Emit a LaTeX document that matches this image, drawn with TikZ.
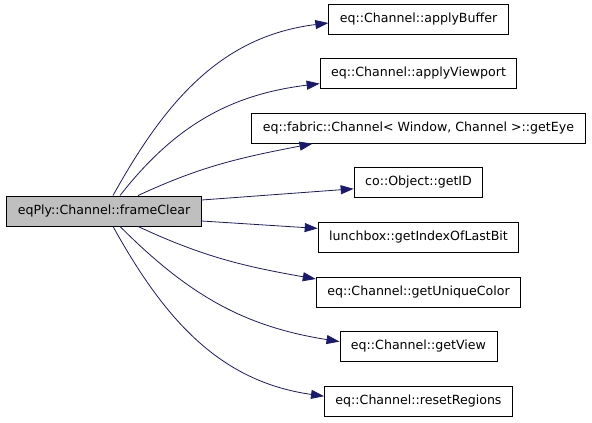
\documentclass[tikz,border=0pt]{standalone}
\usepackage{fontspec}
\setmainfont{DejaVu Sans}
\usepackage{tikz}
\usetikzlibrary{arrows.meta, positioning}
\definecolor{edgeblue}{RGB}{25,25,112}
\definecolor{callergray}{RGB}{191,191,191}

\begin{document}
\begin{tikzpicture}[
        node distance=23.7pt,
        fn/.style={rectangle, draw=black, line width=0.9pt, minimum height=30pt,
                   inner xsep=11pt, text height=9pt, text depth=3pt,
                   font=\fontsize{12.6}{14}\selectfont},
        callerbox/.style={fn, fill=callergray},
        calleebox/.style={fn, fill=white},
        call/.style={-{Triangle[length=13pt, width=9pt]}, line width=0.8pt, draw=edgeblue, color=edgeblue}
    ]
        \useasboundingbox (0pt,0pt) rectangle (592pt,-423pt);
        \node[callerbox] (frameclear) at (104pt,-211pt) {eqPly::Channel::frameClear};
        % callees, one column
        \node[calleebox] (buffer) at (418.5pt,-19pt) {eq::Channel::applyBuffer};
        \node[calleebox, below=of buffer] (viewport) {eq::Channel::applyViewport};
        \node[calleebox, below=of viewport] (geteye) {eq::fabric::Channel< Window, Channel >::getEye};
        \node[calleebox, below=of geteye] (getid) {co::Object::getID};
        \node[calleebox, below=of getid] (lastbit) {lunchbox::getIndexOfLastBit};
        \node[calleebox, below=of lastbit] (uniquecolor) {eq::Channel::getUniqueColor};
        \node[calleebox, below=of uniquecolor] (getview) {eq::Channel::getView};
        \node[calleebox, below=of getview] (resetregions) {eq::Channel::resetRegions};
        % calls
        \draw[call] ([xshift=9pt]frameclear.north) to[out=61, in=187] ([yshift=-4pt]buffer.west);
        \draw[call] ([xshift=16pt]frameclear.north) to[out=52, in=187] ([yshift=-10pt]viewport.west);
        \draw[call] ([xshift=34pt]frameclear.north) to[out=25, in=191] ([xshift=61pt]geteye.south west);
        \draw[call] ([yshift=11pt]frameclear.east) -- ([yshift=-6pt]getid.west);
        \draw[call] ([yshift=-10pt]frameclear.east) -- ([yshift=9pt]lastbit.west);
        \draw[call] ([xshift=34pt]frameclear.south) to[out=-25, in=170] ([yshift=13pt]uniquecolor.west);
        \draw[call] ([xshift=16pt]frameclear.south) to[out=-45, in=171] ([yshift=5pt]getview.west);
        \draw[call] ([xshift=9pt]frameclear.south) to[out=-61, in=172] ([yshift=5pt]resetregions.west);
    \end{tikzpicture}
\end{document}
